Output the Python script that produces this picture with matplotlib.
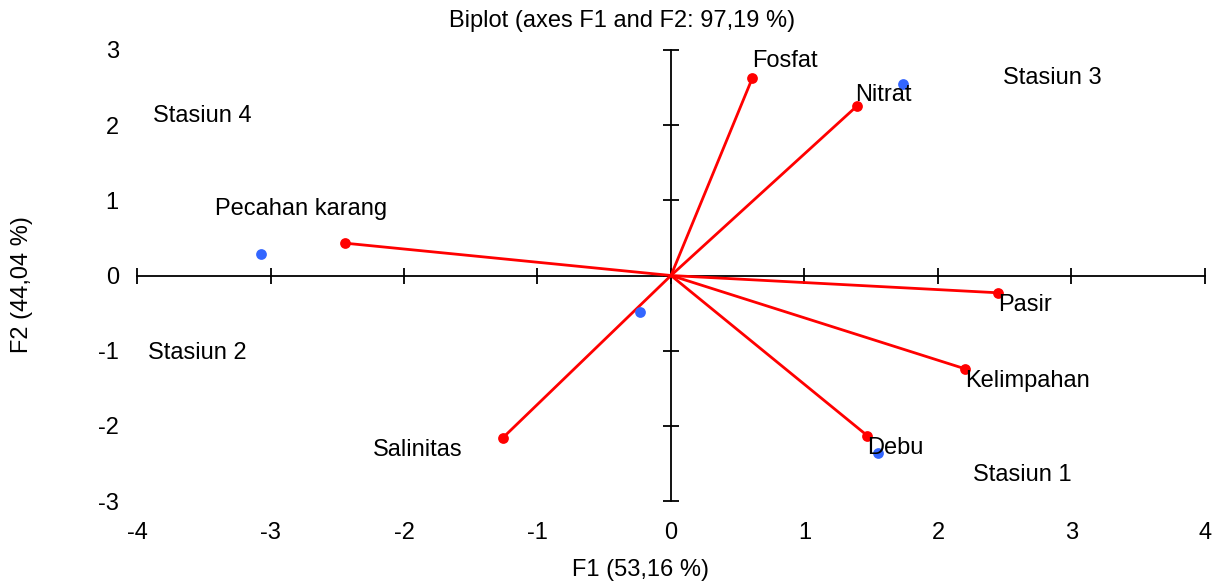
import matplotlib
matplotlib.use("Agg")
import matplotlib.pyplot as plt

plt.rcParams['font.family'] = ['Liberation Sans', 'DejaVu Sans']
plt.rcParams['axes.unicode_minus'] = False

# variabel (vektor merah)
var_names = ["Fosfat", "Nitrat", "Pecahan karang", "Pasir", "Kelimpahan", "Debu", "Salinitas"]
var_f1 = [0.61, 1.39, -2.44, 2.45, 2.20, 1.47, -1.26]
var_f2 = [2.63, 2.25, 0.43, -0.23, -1.24, -2.13, -2.16]
var_lab_f1 = [0.85, 1.59, -2.77, 2.65, 2.67, 1.68, -1.90]
var_lab_f2 = [2.85, 2.40, 0.88, -0.39, -1.41, -2.29, -2.32]

# observasi (titik biru)
obs_names = ["Stasiun 1", "Stasiun 2", "Stasiun 3", "Stasiun 4"]
obs_f1 = [1.55, -0.23, 1.74, -3.07]
obs_f2 = [-2.36, -0.49, 2.55, 0.29]
obs_lab_f1 = [2.63, -3.55, 2.86, -3.51]
obs_lab_f2 = [-2.65, -1.03, 2.63, 2.12]

ticks_x = [-4, -3, -2, -1, 0, 1, 2, 3, 4]
ticks_y = [-3, -2, -1, 0, 1, 2, 3]

W, H = 1214, 582
fig = plt.figure(figsize=(W / 100, H / 100), dpi=100)
ax = fig.add_axes([137 / W, 1 - 501 / H, (1205 - 137) / W, (501 - 50) / H])
ax.set_xlim(-4, 4)
ax.set_ylim(-3, 3)

for s in ['top', 'right']:
    ax.spines[s].set_visible(False)
ax.spines['left'].set_position(('data', 0))
ax.spines['bottom'].set_position(('data', 0))
ax.spines['left'].set_linewidth(1.3)
ax.spines['bottom'].set_linewidth(1.3)
ax.set_xticks(ticks_x)
ax.set_yticks(ticks_y)
ax.tick_params(direction='inout', length=11, width=1.3, labelbottom=False, labelleft=False)

# label sumbu di tepi luar
secx = ax.secondary_xaxis(-0.035)
secx.set_xticks(ticks_x)
secx.spines['bottom'].set_visible(False)
secx.tick_params(length=0, labelsize=17, pad=4)
secy = ax.secondary_yaxis(-0.017)
secy.set_yticks(ticks_y)
secy.spines['left'].set_visible(False)
secy.tick_params(length=0, labelsize=17, pad=0)

for i in range(len(var_names)):
    ax.plot([0, var_f1[i]], [0, var_f2[i]], color='red', lw=2, zorder=3)
ax.scatter(var_f1, var_f2, s=60, color='red', zorder=4, linewidths=0)
ax.scatter(obs_f1, obs_f2, s=60, color='#3366ff', zorder=4, linewidths=0)

for i in range(len(var_names)):
    ax.text(var_lab_f1[i], var_lab_f2[i], var_names[i], fontsize=17, ha='center', va='center', zorder=5)
for i in range(len(obs_names)):
    ax.text(obs_lab_f1[i], obs_lab_f2[i], obs_names[i], fontsize=17, ha='center', va='center', zorder=5)

fig.text(622 / W, 1 - 21 / H, "Biplot (axes F1 and F2: 97,19 %)", fontsize=17, ha='center', va='center')
fig.text(640 / W, 1 - 570 / H, "F1 (53,16 %)", fontsize=17, ha='center', va='center')
fig.text(22 / W, 1 - 285 / H, "F2 (44,04 %)", fontsize=17, ha='center', va='center', rotation=90)

fig.savefig("out.png", dpi=100)
